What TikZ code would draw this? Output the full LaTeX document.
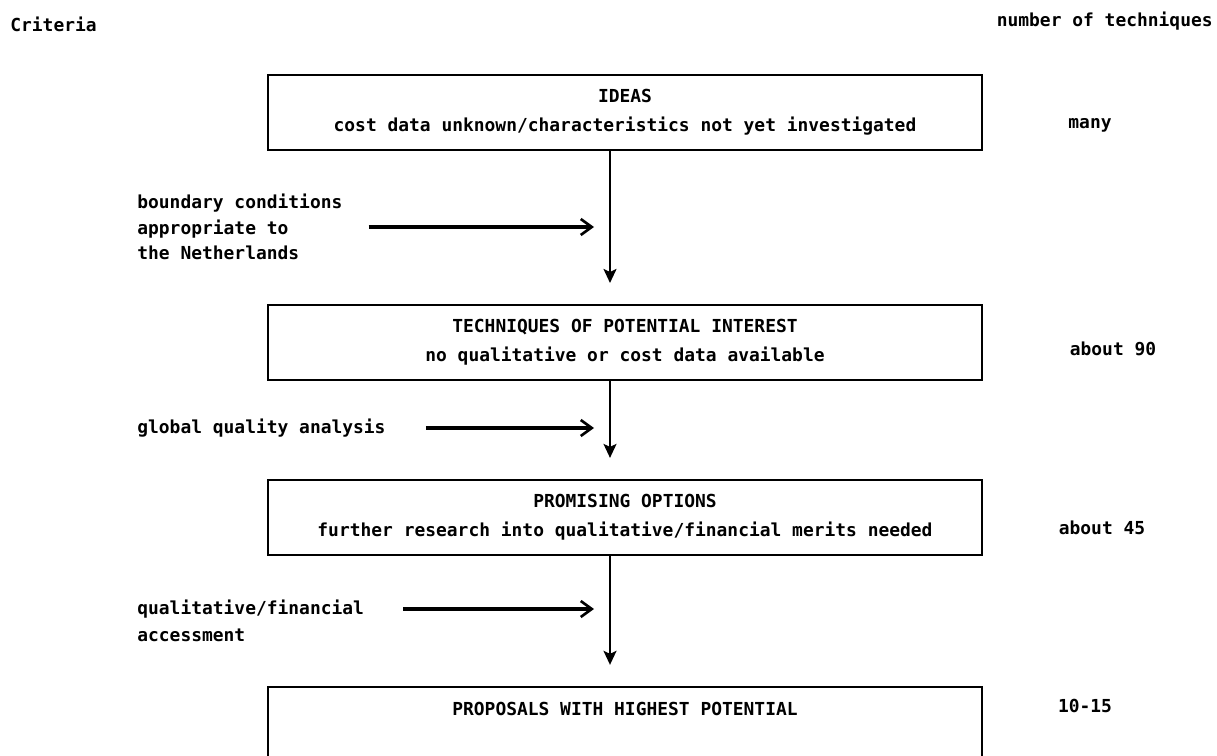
\documentclass[tikz,border=0pt]{standalone}
\usepackage{fontspec}
\setmonofont{DejaVu Sans Mono}
\usetikzlibrary{positioning}
\usetikzlibrary{arrows.meta}
\newcommand{\scanfont}{\ttfamily\bfseries\fontsize{10.2}{14.5}\selectfont}
\tikzset{
  stage/.style={draw,line width=1.1pt,minimum width=14.28cm,minimum height=1.5cm,
    align=center,inner sep=0pt},
  crit/.style={align=left,anchor=west,inner sep=0pt},
  count/.style={inner sep=0pt},
  flow/.style={line width=1.1pt,-{Stealth[length=2.8mm,width=2.6mm,inset=0.6mm]},shorten >=0.42cm},
  feed/.style={line width=1.9pt,-{Straight Barb[length=2.2mm,width=3.2mm,line width=1.5pt]},shorten >=0.32cm}
}
\begin{document}
\begin{tikzpicture}[every node/.style={font=\scanfont}]
  \useasboundingbox (0,0) rectangle (24.34,-15.1);
  % headings
  \node[anchor=base west,inner sep=0pt] (crithead) at (0.2,-0.64) {Criteria};
  \node[anchor=base east,inner sep=0pt] (numhead) at (24.26,-0.54) {number of techniques};
  % the four stages
  \node[stage] (ideas) at (12.5,-2.25)
    {IDEAS\\[2pt]cost data unknown/characteristics not yet investigated};
  \node[stage,below=3.06cm of ideas] (tech)
    {TECHNIQUES OF POTENTIAL INTEREST\\[2pt]no qualitative or cost data available};
  \node[stage,below=1.96cm of tech] (prom)
    {PROMISING OPTIONS\\[2pt]further research into qualitative/financial merits needed};
  \node[stage,below=2.6cm of prom,text height=16.5pt,text depth=1.6cm] (best)
    {PROPOSALS WITH HIGHEST POTENTIAL};
  \coordinate (spine) at (12.2,0);
  \draw[flow] (ideas.south -| spine) -- (tech.north -| spine);
  \draw[flow] (tech.south -| spine) -- (prom.north -| spine);
  \draw[flow] (prom.south -| spine) -- (best.north -| spine);
  % criteria on the left
  \node[crit] (bound) at (2.74,-4.54)
    {boundary conditions\\appropriate to\\the Netherlands};
  \node[crit] (glob) at (2.74,-8.56) {global quality analysis};
  \node[crit] (qual) at (2.74,-12.18) {qualitative/financial};
  \node[crit] (acc) at (2.74,-12.7) {accessment};
  \draw[feed,shorten <=0.52cm] (bound) -- (bound -| spine);
  \draw[feed,shorten <=0.8cm] (glob) -- (glob -| spine);
  \draw[feed,shorten <=0.78cm] (qual) -- (qual -| spine);
  % number of techniques on the right
  \node[count] (n1) at (21.8,-2.5) {many};
  \node[count] (n2) at (22.26,-6.98) {about 90};
  \node[count] (n3) at (22.04,-10.56) {about 45};
  \node[count] (n4) at (21.7,-14.12) {10-15};
\end{tikzpicture}
\end{document}
